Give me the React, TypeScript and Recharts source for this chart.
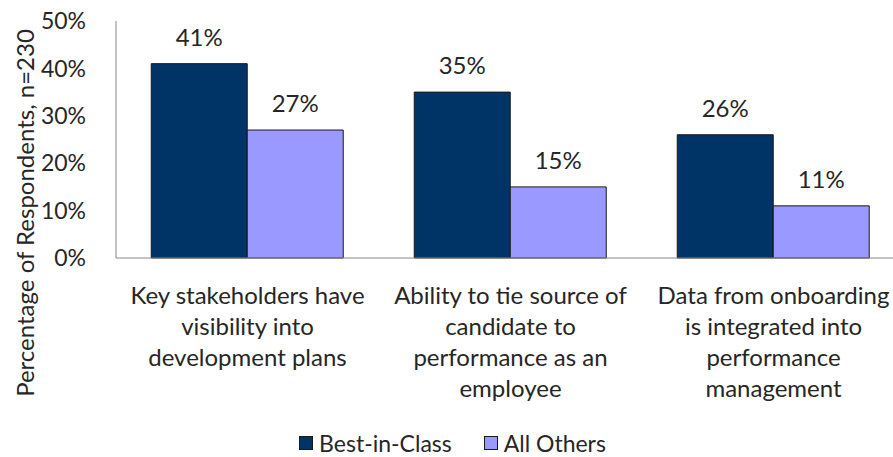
import { BarChart, Bar, XAxis, YAxis, Legend, LabelList } from "recharts";

const categories = [
  "Key stakeholders have|visibility into|development plans",
  "Ability to tie source of|candidate to|performance as an|employee",
  "Data from onboarding|is integrated into|performance|management",
];
const bestInClass = [41, 35, 26];
const allOthers = [27, 15, 11];
const yTicks = [0, 10, 20, 30, 40, 50];

const data = categories.map((name, i) => ({
  name,
  best: bestInClass[i],
  others: allOthers[i],
}));

const FONT = "Lato, 'Open Sans', sans-serif";
const TEXT = "#262626";

function CategoryTick({ x, y, payload }: any) {
  const lines = String(payload.value).split("|");
  return (
    <text x={x} y={y + 38} textAnchor="middle" fill={TEXT} fontSize={24} fontFamily={FONT}>
      {lines.map((line, i) => (
        <tspan key={i} x={x} dy={i === 0 ? 0 : 31}>
          {line}
        </tspan>
      ))}
    </text>
  );
}

function LegendContent() {
  const items = [
    { label: "Best-in-Class", color: "#003366" },
    { label: "All Others", color: "#9999ff" },
  ];
  return (
    <div style={{ display: "flex", justifyContent: "center", gap: 32, fontFamily: FONT, fontSize: 23, color: TEXT }}>
      {items.map((it) => (
        <div key={it.label} style={{ display: "flex", alignItems: "center" }}>
          <span style={{ width: 12, height: 12, background: it.color, border: "1px solid #1a1a1a", marginRight: 6 }} />
          {it.label}
        </div>
      ))}
    </div>
  );
}

export default function App() {
  return (
    <div style={{ position: "absolute", left: 0, top: 0, width: 893, height: 457, overflow: "hidden", background: "#fff" }}>
      <BarChart
        width={905}
        height={457}
        data={data}
        margin={{ top: 21, right: 0, left: 0, bottom: 0 }}
        barCategoryGap="13.4%"
        barGap={0}
      >
        <XAxis
          dataKey="name"
          axisLine={{ stroke: "#868686" }}
          tickLine={false}
          tick={<CategoryTick />}
          interval={0}
          height={171}
        />
        <YAxis
          domain={[0, 50]}
          ticks={yTicks}
          tickFormatter={(v) => `${v}%`}
          axisLine={{ stroke: "#868686" }}
          tickLine={false}
          tick={{ fill: TEXT, fontSize: 23, fontFamily: FONT }}
          tickMargin={24}
          width={116}
          label={{
            content: () => (
              <text
                x={24}
                y={213}
                transform="rotate(-90 24 213)"
                textAnchor="middle"
                dominantBaseline="central"
                fill={TEXT}
                fontSize={24}
                fontFamily={FONT}
              >
                Percentage of Respondents, n=230
              </text>
            ),
          }}
        />
        <Legend content={<LegendContent />} verticalAlign="bottom" wrapperStyle={{ bottom: 0 }} />
        <Bar dataKey="best" name="Best-in-Class" fill="#003366" stroke="#1a1a1a" strokeWidth={1} isAnimationActive={false}>
          <LabelList dataKey="best" position="top" offset={18} formatter={(v: any) => `${v}%`} fill={TEXT} fontSize={24} fontFamily={FONT} />
        </Bar>
        <Bar dataKey="others" name="All Others" fill="#9999ff" stroke="#1a1a1a" strokeWidth={1} isAnimationActive={false}>
          <LabelList dataKey="others" position="top" offset={18} formatter={(v: any) => `${v}%`} fill={TEXT} fontSize={24} fontFamily={FONT} />
        </Bar>
      </BarChart>
    </div>
  );
}
